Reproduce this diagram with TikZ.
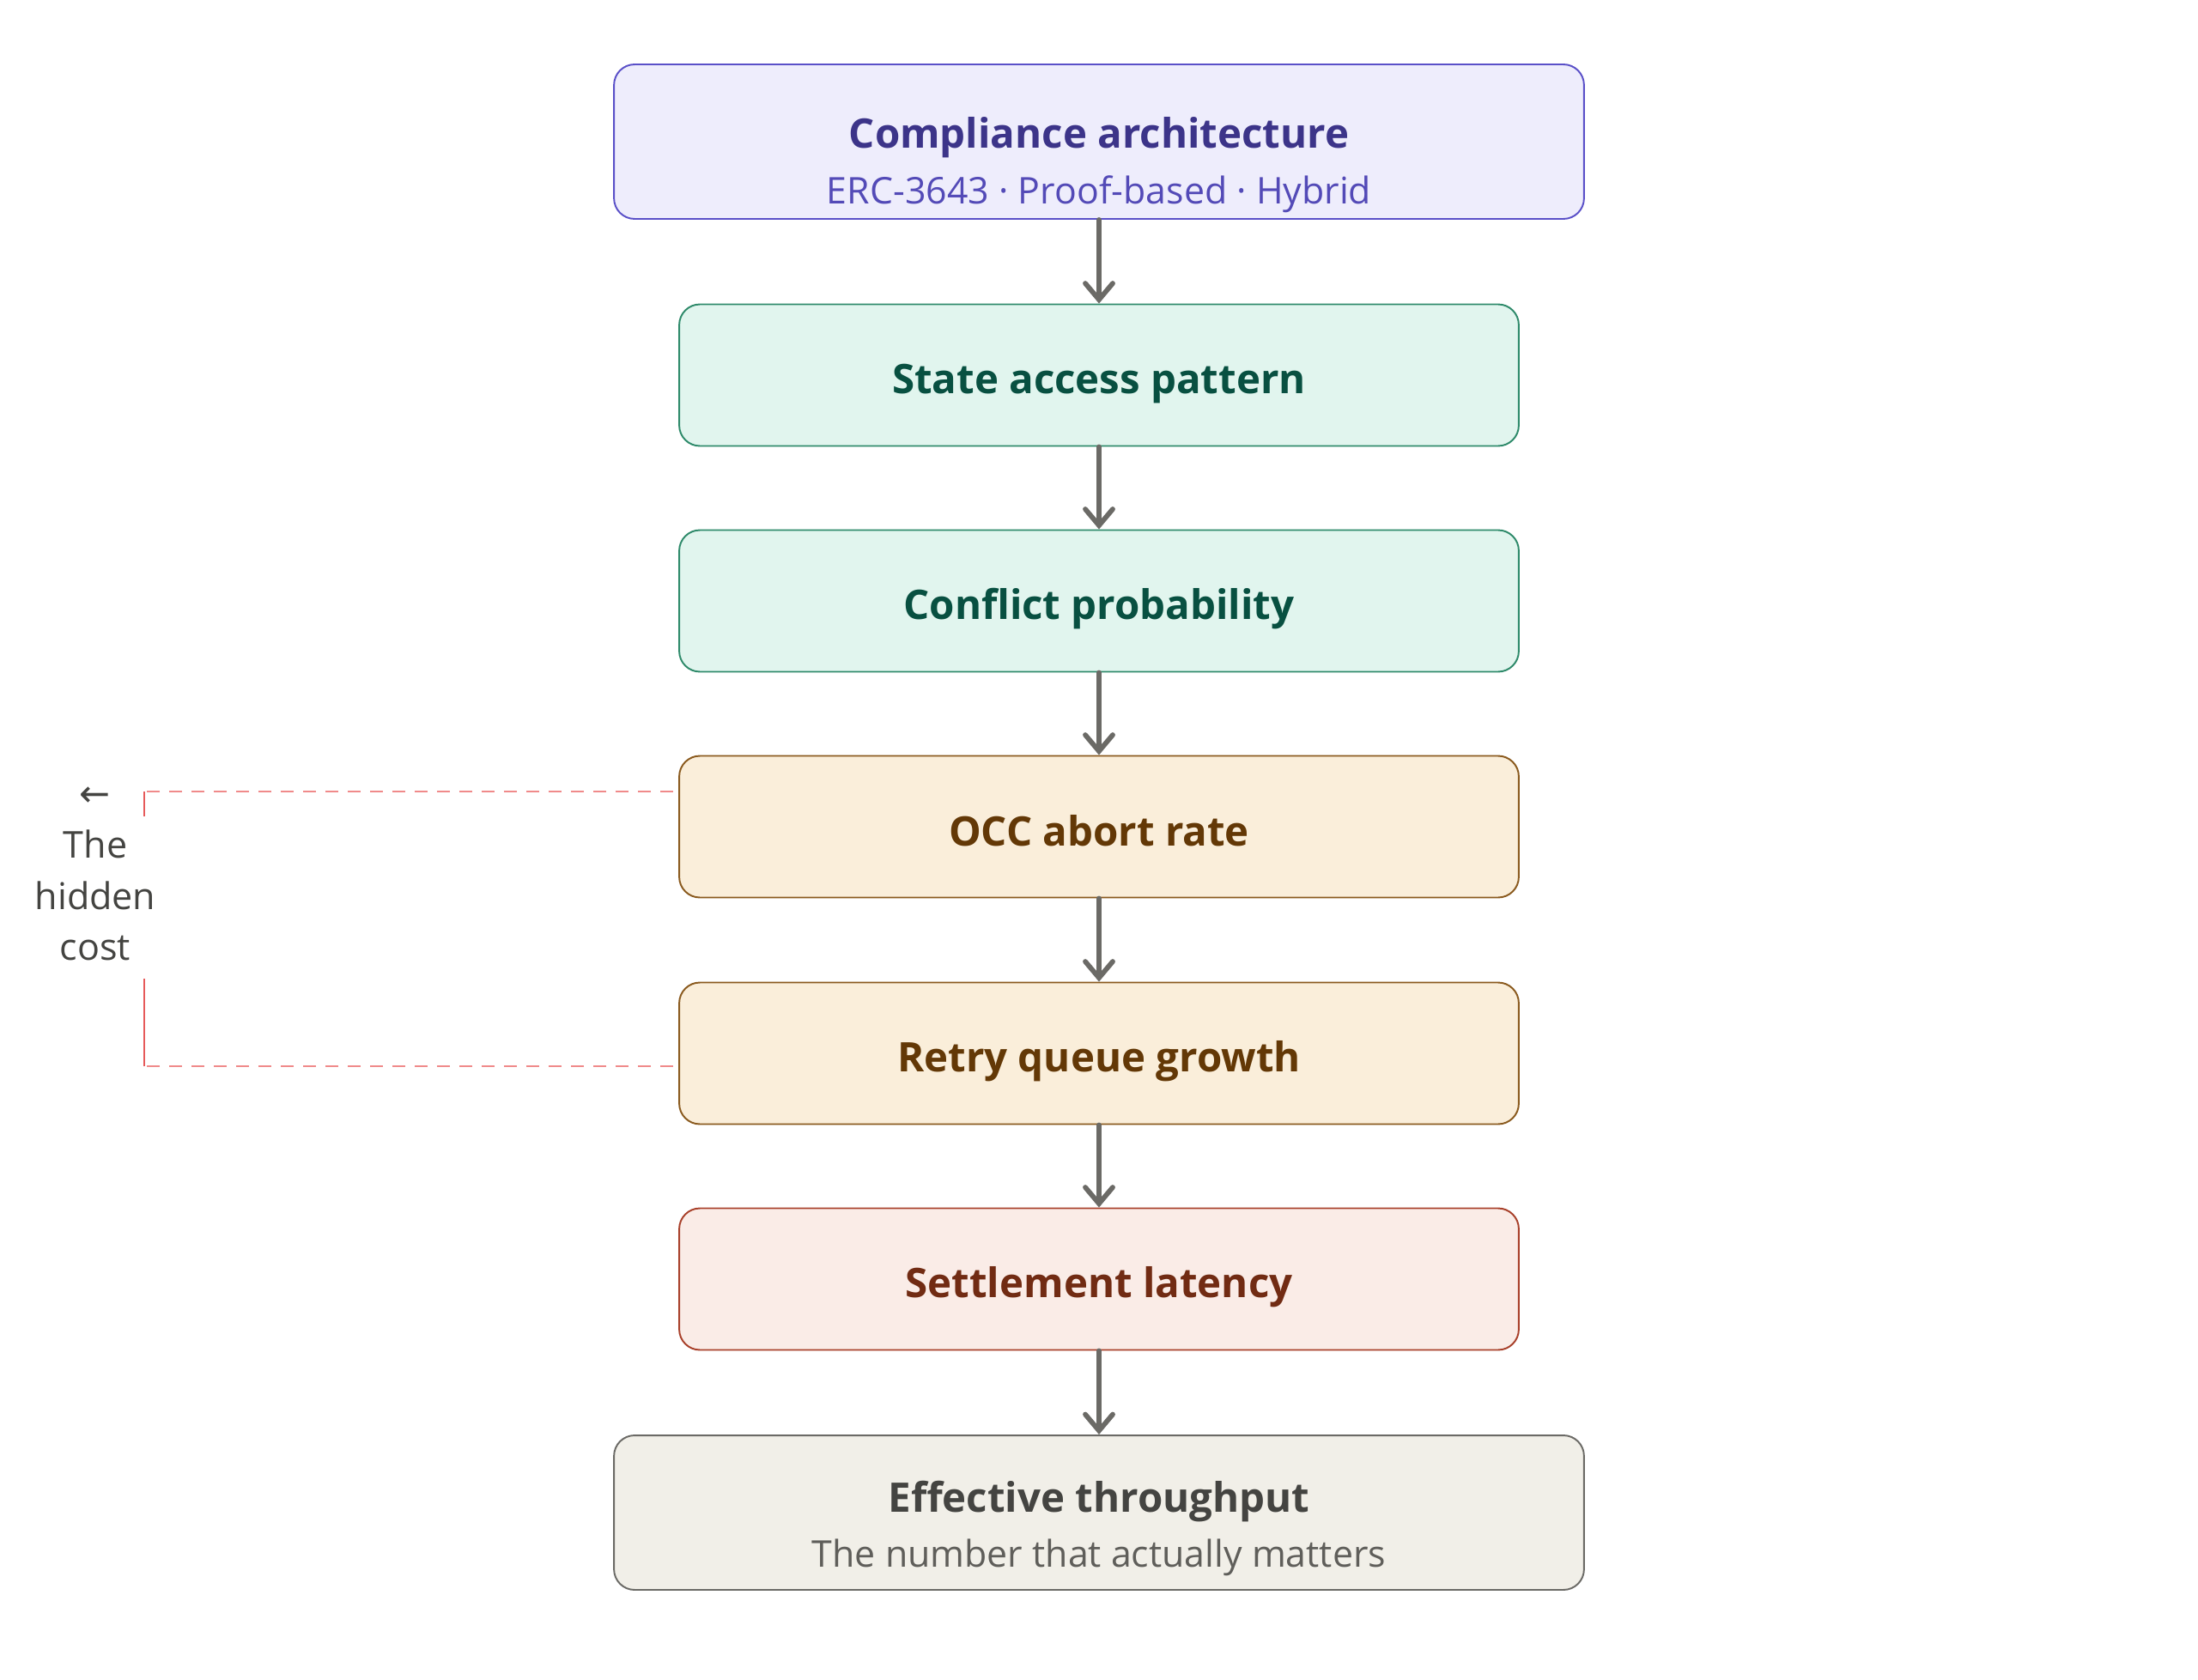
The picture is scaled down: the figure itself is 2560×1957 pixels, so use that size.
\documentclass[tikz,border=0pt]{standalone}
\usepackage{fontspec}
\setmainfont{Open Sans}
\newfontfamily\arrowfont{DejaVu Sans}
\usetikzlibrary{arrows.meta}
\definecolor{arrowgray}{HTML}{6B6A66}
\definecolor{pfill}{HTML}{EEEDFC}
\definecolor{pdraw}{HTML}{5A50C8}
\definecolor{ptext}{HTML}{3C3489}
\definecolor{psub}{HTML}{534AB7}
\definecolor{gfill}{HTML}{E1F5EE}
\definecolor{gdraw}{HTML}{2E8A6A}
\definecolor{gtext}{HTML}{085041}
\definecolor{ofill}{HTML}{FAEEDA}
\definecolor{odraw}{HTML}{8A5A1E}
\definecolor{otext}{HTML}{633806}
\definecolor{rfill}{HTML}{FAECE7}
\definecolor{rdraw}{HTML}{A8402A}
\definecolor{rtext}{HTML}{712B13}
\definecolor{nfill}{HTML}{F1EFE8}
\definecolor{ndraw}{HTML}{6B6A66}
\definecolor{ntext}{HTML}{444441}
\definecolor{nsub}{HTML}{5F5E5A}
\definecolor{dashred}{HTML}{F08A8A}
\definecolor{solidred}{HTML}{E65A5A}
\tikzset{
  boxbase/.style={rectangle, rounded corners=0.48cm, line width=1.1pt, inner sep=0pt},
  widebox/.style={boxbase, minimum width=22.6cm, minimum height=3.6cm},
  midbox/.style={boxbase, minimum width=19.56cm, minimum height=3.3cm},
  purplebox/.style={widebox, fill=pfill, draw=pdraw},
  greenbox/.style={midbox, fill=gfill, draw=gdraw},
  orangebox/.style={midbox, fill=ofill, draw=odraw},
  redbox/.style={midbox, fill=rfill, draw=rdraw},
  neutralbox/.style={widebox, fill=nfill, draw=ndraw},
  titletext/.style={font=\fontsize{27}{32}\selectfont\bfseries, inner sep=0pt, anchor=base},
  subtext/.style={font=\fontsize{24.4}{28}\selectfont, inner sep=0pt, anchor=base},
  flow/.style={draw=arrowgray, line width=3.3pt, line cap=round, -{Straight Barb[length=0.38cm, width=0.64cm, line cap=round]}},
  dashpart/.style={draw=dashred, line width=1.1pt, dash pattern=on 0.3cm off 0.22cm},
  solidpart/.style={draw=solidred, line width=1.1pt},
}
\begin{document}
\begin{tikzpicture}[x=0.02cm, y=-0.02cm]
\useasboundingbox[fill=white] (0,0) rectangle (2560,1957);
\node[purplebox] (arch) at (1280,165) {};
\node[titletext, text=ptext] (archt) at (1280,173) {Compliance architecture};
\node[subtext, text=psub] (archs) at (1280,237) {ERC-3643 · Proof-based · Hybrid};
\node[greenbox] (state) at (1280,437) {};
\node[titletext, text=gtext] (statet) at (1280,458) {State access pattern};
\node[greenbox] (conf) at (1280,700) {};
\node[titletext, text=gtext] (conft) at (1280,721) {Conflict probability};
\node[orangebox] (occ) at (1280,963) {};
\node[titletext, text=otext] (occt) at (1280,985) {OCC abort rate};
\node[orangebox] (retry) at (1280,1227) {};
\node[titletext, text=otext] (retryt) at (1280,1248) {Retry queue growth};
\node[redbox] (settle) at (1280,1490) {};
\node[titletext, text=rtext] (settlet) at (1280,1511) {Settlement latency};
\node[neutralbox] (eff) at (1280,1762) {};
\node[titletext, text=ntext] (efft) at (1280,1761) {Effective throughput};
\node[subtext, text=nsub] (effs) at (1280,1825) {The number that actually matters};
\draw[flow] (arch.south) -- (state.north);
\draw[flow] (state.south) -- (conf.north);
\draw[flow] (conf.south) -- (occ.north);
\draw[flow] (occ.south) -- (retry.north);
\draw[flow] (retry.south) -- (settle.north);
\draw[flow] (settle.south) -- (eff.north);
\coordinate (ta) at (784,922);
\coordinate (tb) at (168,922);
\coordinate (tc) at (168,951);
\coordinate (ba) at (784,1242);
\coordinate (bb) at (168,1242);
\coordinate (bc) at (168,1140);
\draw[dashpart] (ta) -- (tb);
\draw[solidpart] (tb) -- (tc);
\draw[dashpart] (ba) -- (bb);
\draw[solidpart] (bb) -- (bc);
\node[text=ntext, align=center, inner sep=0pt, font=\fontsize{24.5}{34}\selectfont] (hidden) at (111,1018) {{\arrowfont ←}\\The\\hidden\\cost};
\end{tikzpicture}
\end{document}
